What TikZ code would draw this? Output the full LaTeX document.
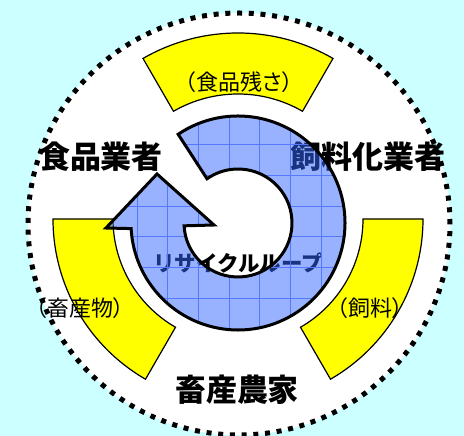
\documentclass[tikz,border=0pt]{standalone}
\usepackage{fontspec}
\setmainfont{Noto Sans CJK JP}
\newfontfamily\propfont[RawFeature=+palt]{Noto Sans CJK JP}
\usepackage{tikz}
\usetikzlibrary{
  calc,
}
\definecolor{bgcyan}{RGB}{204,255,255}
\definecolor{loopblue}{RGB}{51,102,255}
\definecolor{gridblue}{RGB}{85,120,255}
\definecolor{bandyellow}{RGB}{255,255,0}
\tikzstyle{actor} = [
  inner sep=0pt,
  font=\fontsize{31}{31}\selectfont\bfseries,
]
\tikzstyle{goods} = [
  inner sep=0pt,
  font=\propfont\fontsize{22}{22}\selectfont,
]
\tikzstyle{band} = [
  draw=black,
  line width=1.2pt,
  fill=bandyellow,
]
\newcommand{\recyclepath}{
  ($(hub)+(124:107)$) arc[start angle=124, end angle=-177, radius=107pt]
  -- (106,208) -- (157,262) -- (214,211)
  -- ($(hub)+(-177:54)$) arc[start angle=-177, end angle=125, radius=54pt]
  -- cycle
}

\begin{document}
\begin{tikzpicture}[x=1pt,y=1pt]

      \fill[bgcyan] (0,0) rectangle (464,436);
      \useasboundingbox (0,0) rectangle (464,436);
      \coordinate (ring) at (239,212);
      \coordinate (hub) at (238,213);

      % dotted outer circle
      \draw[fill=white,line width=5pt,dash pattern=on 5pt off 6.73pt] (ring) circle[radius=211pt];

      % yellow bands
      \draw[band] ($(hub)+(60:129)$) arc[start angle=60, end angle=120, radius=129pt]
        -- ($(hub)+(120:190)$) arc[start angle=120, end angle=60, radius=190pt] -- cycle;
      \draw[band] (363,217) arc[start angle=0, end angle=-60, radius=125pt]
        -- ($(238,217)+(-60:185)$) arc[start angle=-60, end angle=0, radius=185pt] -- cycle;
      \draw[band] (113,217) arc[start angle=180, end angle=240, radius=125pt]
        -- ($(238,217)+(240:185)$) arc[start angle=240, end angle=180, radius=185pt] -- cycle;

      \node[actor] (food)   at (101,279) {食品業者};
      \node[actor] (feedco) at (368,279) {飼料化業者};
      \node[actor] (farm)   at (237,46)  {畜産農家};
      \node[goods] (leftover) at (239,354) {（食品残さ）};
      \node[goods] (product)  at (80,128)  {（畜産物）};
      \node[goods] (feed)     at (370,128) {（飼料）};
      \node[inner sep=0pt,font=\fontsize{21.5}{21.5}\selectfont\bfseries] (looplabel) at (238,173) {リサイクルループ};

      % recycle arrow
      \fill[loopblue,opacity=0.5] \recyclepath;
      \begin{scope}
        \clip \recyclepath;
        \foreach \k in {0,...,7} {
          \draw[gridblue,line width=0.8pt] ({137+30.7*\k},100) -- ++(0,230);
          \draw[gridblue,line width=0.8pt] (120,{107+30.7*\k}) -- ++(240,0);
        }
      \end{scope}
      \draw[line width=3pt] \recyclepath;

    \end{tikzpicture}
\end{document}
